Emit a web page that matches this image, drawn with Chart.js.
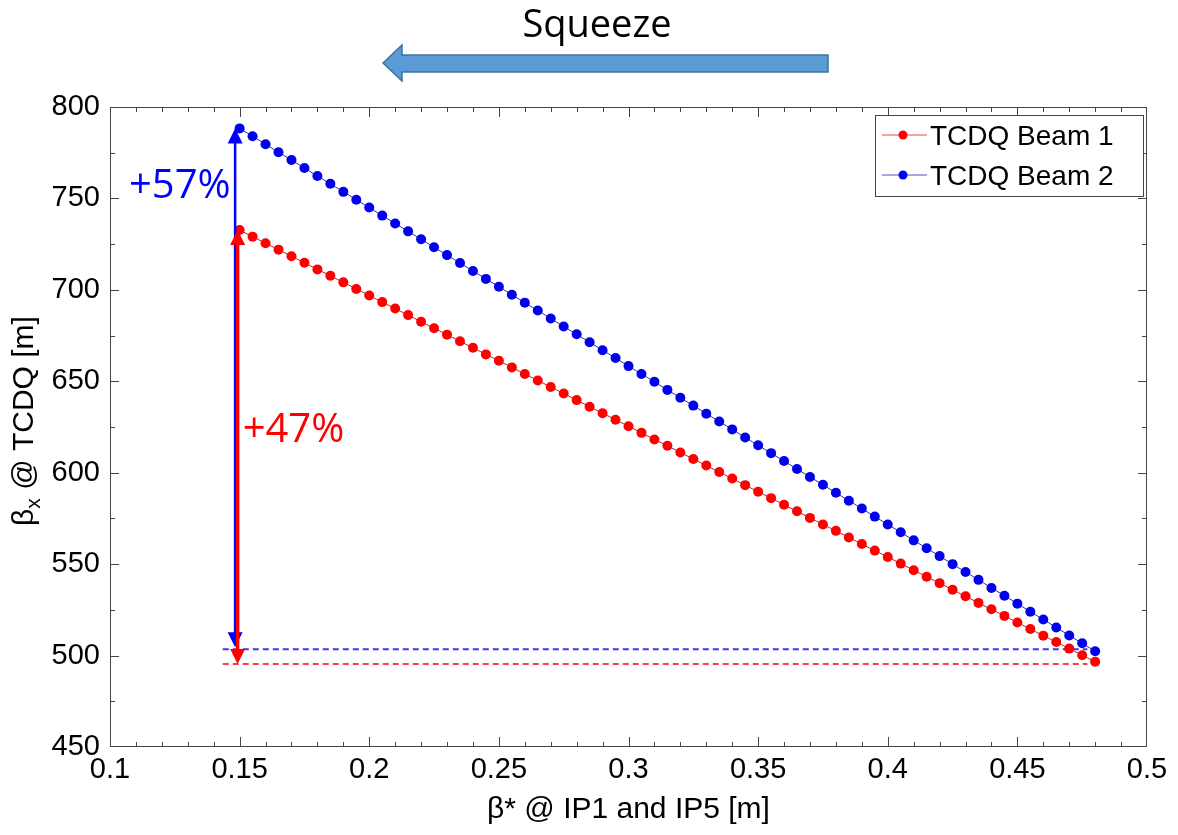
<!DOCTYPE html>
<html>
<head>
<meta charset="utf-8">
<style>
  html, body { margin: 0; padding: 0; background: #fff; }
</style>
</head>
<body>
<canvas id="myChart" width="1178" height="835"></canvas>

<script src="https://cdn.jsdelivr.net/npm/chart.js/dist/chart.umd.min.js"></script>
<script>
// beta* at IP1/IP5 [m]
const betaStar = [
  0.150, 0.155, 0.160, 0.165, 0.170, 0.175, 0.180, 0.185, 0.190, 0.195,
  0.200, 0.205, 0.210, 0.215, 0.220, 0.225, 0.230, 0.235, 0.240, 0.245,
  0.250, 0.255, 0.260, 0.265, 0.270, 0.275, 0.280, 0.285, 0.290, 0.295,
  0.300, 0.305, 0.310, 0.315, 0.320, 0.325, 0.330, 0.335, 0.340, 0.345,
  0.350, 0.355, 0.360, 0.365, 0.370, 0.375, 0.380, 0.385, 0.390, 0.395,
  0.400, 0.405, 0.410, 0.415, 0.420, 0.425, 0.430, 0.435, 0.440, 0.445,
  0.450, 0.455, 0.460, 0.465, 0.470, 0.475, 0.480
];

// beta_x at TCDQ [m]
const beam1 = [
  732.7, 729.1, 725.5, 722.0, 718.4, 714.8, 711.2, 707.7, 704.1, 700.5,
  696.9, 693.3, 689.8, 686.2, 682.6, 679.0, 675.5, 671.9, 668.3, 664.7,
  661.2, 657.6, 654.0, 650.4, 646.9, 643.3, 639.7, 636.1, 632.5, 629.0,
  625.4, 621.8, 618.2, 614.7, 611.1, 607.5, 603.9, 600.4, 596.8, 593.2,
  589.6, 586.1, 582.5, 578.9, 575.3, 571.7, 568.2, 564.6, 561.0, 557.4,
  553.9, 550.3, 546.7, 543.1, 539.6, 536.0, 532.4, 528.8, 525.3, 521.7,
  518.1, 514.5, 510.9, 507.4, 503.8, 500.2, 496.6
];
const beam2 = [
  788.3, 784.0, 779.6, 775.3, 771.0, 766.6, 762.3, 758.0, 753.6, 749.3,
  745.0, 740.6, 736.3, 732.0, 727.7, 723.3, 719.0, 714.7, 710.3, 706.0,
  701.7, 697.3, 693.0, 688.7, 684.3, 680.0, 675.7, 671.3, 667.0, 662.7,
  658.3, 654.0, 649.7, 645.3, 641.0, 636.7, 632.3, 628.0, 623.7, 619.3,
  615.0, 610.7, 606.4, 602.0, 597.7, 593.4, 589.0, 584.7, 580.4, 576.0,
  571.7, 567.4, 563.0, 558.7, 554.4, 550.0, 545.7, 541.4, 537.0, 532.7,
  528.4, 524.0, 519.7, 515.4, 511.0, 506.7, 502.4
];

const seriesNames = ['TCDQ Beam 1', 'TCDQ Beam 2'];

// dashed reference levels (value at beta* = 0.48)
const refX = [0.1435, 0.477];
const refBeam1 = [495.4, 495.4];
const refBeam2 = [503.5, 503.5];

// gain arrows at beta* = 0.15
const arrowX = 0.15;
const arrowBeam1 = [495.4, 732.7];
const arrowBeam2 = [503.5, 788.3];
const gainLabels = ['+47%', '+57%'];

const xTitle = 'β* @ IP1 and IP5 [m]';
const yTitle = ['β', 'x', ' @ TCDQ [m]'];
const headerText = 'Squeeze';

const pts = (xs, ys) => xs.map((v, i) => ({ x: v, y: ys[i] }));

function drawArrow(ctx, x, yLow, yHigh, color, lw) {
  const hw = 7.5, hl = 15;
  ctx.strokeStyle = color;
  ctx.fillStyle = color;
  ctx.lineWidth = lw;
  ctx.beginPath();
  ctx.moveTo(x, yLow - hl + 2);
  ctx.lineTo(x, yHigh + hl - 2);
  ctx.stroke();
  ctx.beginPath();
  ctx.moveTo(x, yHigh);
  ctx.lineTo(x - hw, yHigh + hl);
  ctx.lineTo(x + hw, yHigh + hl);
  ctx.closePath();
  ctx.fill();
  ctx.beginPath();
  ctx.moveTo(x, yLow);
  ctx.lineTo(x - hw, yLow - hl);
  ctx.lineTo(x + hw, yLow - hl);
  ctx.closePath();
  ctx.fill();
}

const overlay = {
  id: 'overlay',
  afterDatasetsDraw(chart) {
    const { ctx, scales: { x, y } } = chart;
    const ax = x.getPixelForValue(arrowX);
    ctx.save();
    drawArrow(ctx, ax - 4.5, y.getPixelForValue(arrowBeam2[0]) - 2, y.getPixelForValue(arrowBeam2[1]), '#0000ff', 2.5);
    drawArrow(ctx, ax - 2, y.getPixelForValue(arrowBeam1[0]), y.getPixelForValue(arrowBeam1[1]), '#ff0000', 3.5);

    ctx.font = '40px "Open Sans"';
    ctx.textBaseline = 'alphabetic';
    ctx.fillStyle = '#0000ff';
    ctx.textAlign = 'right';
    ctx.fillText(gainLabels[1], ax - 9, y.getPixelForValue(750.2));
    ctx.fillStyle = '#ff0000';
    ctx.textAlign = 'left';
    ctx.fillText(gainLabels[0], ax + 3, y.getPixelForValue(616.7));
    ctx.restore();
  },
  afterDraw(chart) {
    const { ctx, chartArea: a, scales: { x, y } } = chart;
    ctx.save();

    // box + inward ticks
    ctx.strokeStyle = '#444';
    ctx.lineWidth = 1;
    ctx.strokeRect(a.left + 0.5, a.top + 0.5, a.right - a.left - 1, a.bottom - a.top - 1);
    ctx.beginPath();
    for (let i = 1; i < 40; i++) {
      const px = Math.round(x.getPixelForValue(0.1 + i * 0.01)) + 0.5;
      const len = i % 5 === 0 ? 10 : 5;
      ctx.moveTo(px, a.bottom); ctx.lineTo(px, a.bottom - len);
      ctx.moveTo(px, a.top); ctx.lineTo(px, a.top + len);
    }
    for (let j = 1; j < 14; j++) {
      const py = Math.round(y.getPixelForValue(450 + j * 25)) + 0.5;
      const len = j % 2 === 0 ? 9 : 5;
      ctx.moveTo(a.left, py); ctx.lineTo(a.left + len, py);
      ctx.moveTo(a.right, py); ctx.lineTo(a.right - len, py);
    }
    ctx.stroke();

    // legend
    const lx = 875, ly = 115;
    ctx.fillStyle = '#fff';
    ctx.fillRect(lx, ly, 268, 81);
    ctx.strokeStyle = '#444';
    ctx.strokeRect(lx + 0.5, ly + 0.5, 268, 81);
    const legCols = [['#e04848', '#ff0000'], ['#5050c0', '#0000ee']];
    seriesNames.forEach((name, i) => {
      const cy = ly + 20 + i * 40;
      ctx.strokeStyle = legCols[i][0];
      ctx.beginPath();
      ctx.moveTo(lx + 7, cy); ctx.lineTo(lx + 52, cy);
      ctx.stroke();
      ctx.fillStyle = legCols[i][1];
      ctx.beginPath();
      ctx.arc(lx + 28, cy, 4.5, 0, Math.PI * 2);
      ctx.fill();
      ctx.fillStyle = '#000';
      ctx.font = '28px "Liberation Sans", Arial';
      ctx.textAlign = 'left';
      ctx.textBaseline = 'alphabetic';
      ctx.fillText(name, lx + 55, cy + 10);
    });

    // axis titles
    ctx.fillStyle = '#000';
    ctx.font = '30px "Liberation Sans", Arial';
    ctx.textAlign = 'center';
    ctx.fillText(xTitle, (a.left + a.right) / 2, 818);

    ctx.save();
    ctx.translate(33, (a.top + a.bottom) / 2 - 6);
    ctx.rotate(-Math.PI / 2);
    ctx.textAlign = 'left';
    const big = '30px "Liberation Sans", Arial', small = '21px "Liberation Sans", Arial';
    ctx.font = big;
    const w0 = ctx.measureText(yTitle[0]).width, w2 = ctx.measureText(yTitle[2]).width;
    ctx.font = small;
    const w1 = ctx.measureText(yTitle[1]).width;
    let sx = -(w0 + w1 + w2) / 2;
    ctx.font = big; ctx.fillText(yTitle[0], sx, 0); sx += w0;
    ctx.font = small; ctx.fillText(yTitle[1], sx, 7); sx += w1;
    ctx.font = big; ctx.fillText(yTitle[2], sx, 0);
    ctx.restore();

    // squeeze header
    ctx.font = '38px "Open Sans"';
    ctx.textAlign = 'center';
    ctx.fillStyle = '#000';
    ctx.fillText(headerText, 597, 37);
    ctx.beginPath();
    ctx.moveTo(383, 63);
    ctx.lineTo(402, 45);
    ctx.lineTo(402, 55);
    ctx.lineTo(828, 55);
    ctx.lineTo(828, 72);
    ctx.lineTo(402, 72);
    ctx.lineTo(402, 81);
    ctx.closePath();
    ctx.fillStyle = '#5b9bd5';
    ctx.fill();
    ctx.strokeStyle = '#41719c';
    ctx.lineWidth = 1.5;
    ctx.stroke();

    ctx.restore();
  }
};

const config = {
  type: 'scatter',
  data: {
    datasets: [
      {
        label: seriesNames[0],
        data: pts(betaStar, beam1),
        showLine: true,
        borderColor: '#b02a2a',
        borderWidth: 1,
        pointRadius: 5,
        pointBorderWidth: 0,
        pointBackgroundColor: '#ff0000',
        order: 2
      },
      {
        label: seriesNames[1],
        data: pts(betaStar, beam2),
        showLine: true,
        borderColor: '#30309a',
        borderWidth: 1,
        pointRadius: 5,
        pointBorderWidth: 0,
        pointBackgroundColor: '#0000ee',
        order: 1
      },
      {
        data: pts(refX, refBeam1),
        showLine: true,
        borderColor: '#ff4040',
        borderWidth: 2,
        borderDash: [6, 4],
        pointRadius: 0,
        order: 3
      },
      {
        data: pts(refX, refBeam2),
        showLine: true,
        borderColor: '#3a3af8',
        borderWidth: 2,
        borderDash: [6, 4],
        pointRadius: 0,
        order: 3
      }
    ]
  },
  options: {
    responsive: false,
    animation: false,
    layout: { padding: { top: 107, right: 31, left: 0, bottom: 0 } },
    plugins: {
      legend: { display: false },
      tooltip: { enabled: false }
    },
    scales: {
      x: {
        type: 'linear',
        min: 0.1,
        max: 0.5,
        grid: { display: false, drawTicks: false },
        border: { display: false },
        ticks: {
          stepSize: 0.05,
          color: '#000',
          padding: 6,
          maxRotation: 0,
          font: { family: '"Liberation Sans", Arial', size: 29 },
          callback: (v) => String(parseFloat(Number(v).toFixed(2)))
        },
        afterFit: (s) => { s.height = 88; }
      },
      y: {
        min: 450,
        max: 800,
        grid: { display: false, drawTicks: false },
        border: { display: false },
        ticks: {
          stepSize: 50,
          color: '#000',
          padding: 10,
          font: { family: '"Liberation Sans", Arial', size: 29 }
        },
        afterFit: (s) => { s.width = 110; }
      }
    }
  },
  plugins: [overlay]
};

const myChart = new Chart(document.getElementById('myChart'), config);
</script>
</body>
</html>
